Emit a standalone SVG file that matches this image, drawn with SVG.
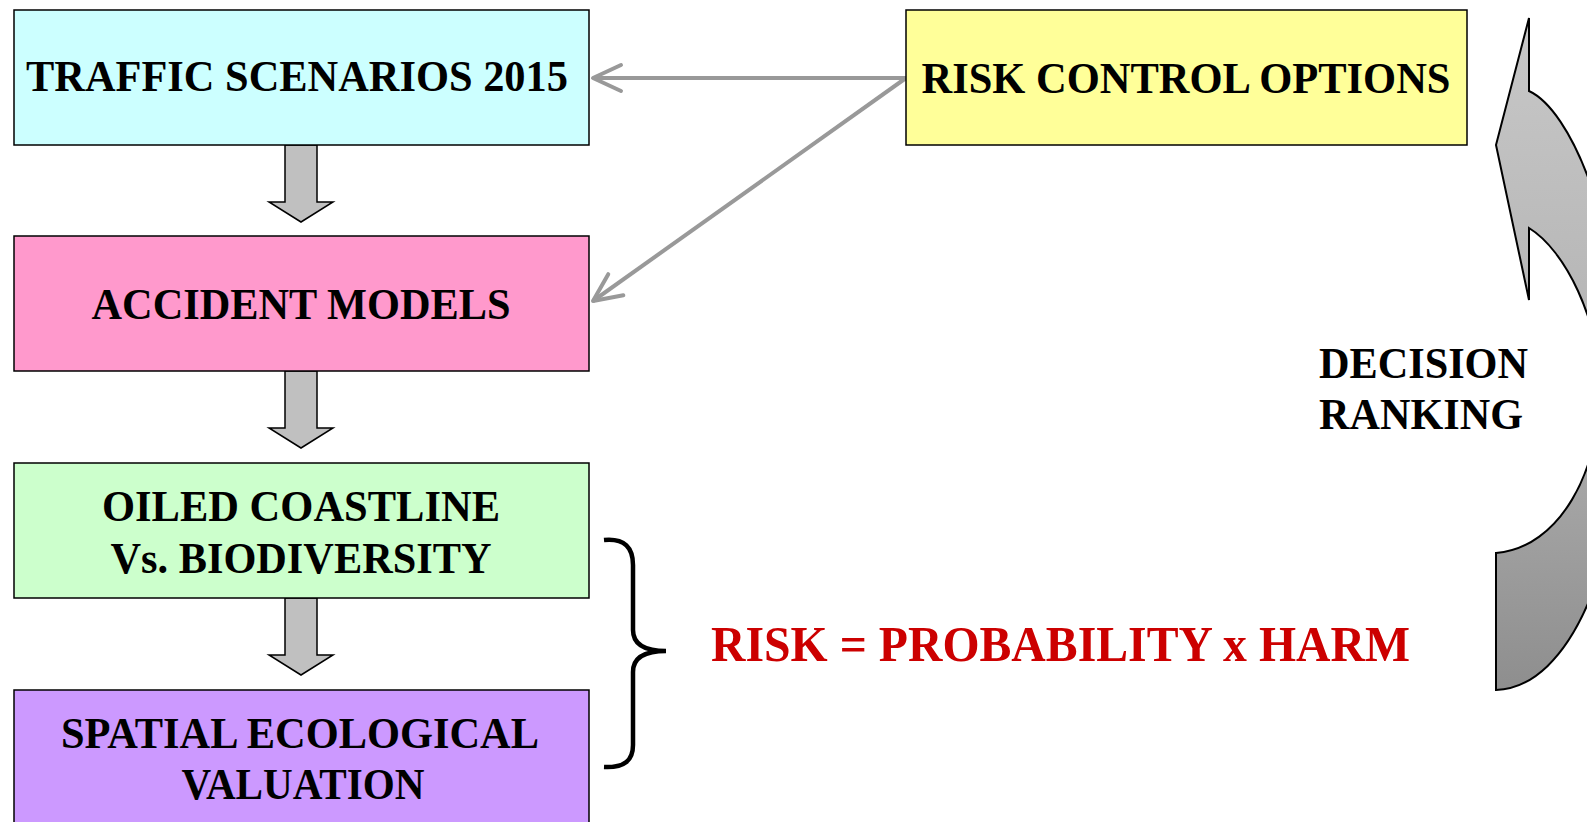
<svg xmlns="http://www.w3.org/2000/svg" width="1587" height="822" viewBox="0 0 1587 822">
<defs>
<style>
.box{stroke:#000;stroke-width:1.5}
.t{font-family:"Liberation Serif","Times New Roman",serif;font-weight:bold;font-size:45px;fill:#000;text-anchor:middle}
.blk{fill:#c0c0c0;stroke:#000;stroke-width:1.5;stroke-linejoin:miter}
.con{stroke:#999;stroke-width:4;fill:none}
</style>
<marker id="open" markerUnits="userSpaceOnUse" markerWidth="40" markerHeight="40" refX="0" refY="0" orient="auto" overflow="visible">
<path d="M-28,-13 L0,0 L-28,13" fill="none" stroke="#999" stroke-width="4" stroke-linecap="round" stroke-linejoin="round"/>
</marker>
<linearGradient id="cg" x1="0" y1="0" x2="0" y2="1">
<stop offset="0" stop-color="#c8c8c8"/>
<stop offset="0.5" stop-color="#b4b4b4"/>
<stop offset="1" stop-color="#8e8e8e"/>
</linearGradient>
</defs>
<rect width="1587" height="822" fill="#fff"/>

<g id="connectors">
<line class="con" x1="906" y1="78" x2="593" y2="78" marker-end="url(#open)"/>
<line class="con" x1="906" y1="78" x2="593" y2="301" marker-end="url(#open)"/>
<path class="blk" d="M285,145 L317,145 L317,202 L333,202 L301,222 L269,202 L285,202 Z"/>
<path class="blk" d="M285,371 L317,371 L317,428 L333,428 L301,448 L269,428 L285,428 Z"/>
<path class="blk" d="M285,598 L317,598 L317,655 L333,655 L301,675 L269,655 L285,655 Z"/>
</g>

<g id="traffic">
<rect class="box" x="14" y="10" width="575" height="135" fill="#ccffff"/>
<text class="t" x="297" y="91" textLength="542" lengthAdjust="spacingAndGlyphs">TRAFFIC SCENARIOS 2015</text>
</g>
<g id="risk-control">
<rect class="box" x="906" y="10" width="561" height="135" fill="#ffff99"/>
<text class="t" x="1186" y="93" textLength="529" lengthAdjust="spacingAndGlyphs">RISK CONTROL OPTIONS</text>
</g>
<g id="accident">
<rect class="box" x="14" y="236" width="575" height="135" fill="#ff99cc"/>
<text class="t" x="301" y="319" textLength="419" lengthAdjust="spacingAndGlyphs">ACCIDENT MODELS</text>
</g>
<g id="oiled">
<rect class="box" x="14" y="463" width="575" height="135" fill="#ccffcc"/>
<text class="t" x="301" y="521" textLength="398" lengthAdjust="spacingAndGlyphs">OILED COASTLINE</text>
<text class="t" x="301" y="573" textLength="381" lengthAdjust="spacingAndGlyphs">Vs. BIODIVERSITY</text>
</g>
<g id="spatial">
<rect class="box" x="14" y="690" width="575" height="140" fill="#cc99ff"/>
<text class="t" x="300" y="748" textLength="478" lengthAdjust="spacingAndGlyphs">SPATIAL ECOLOGICAL</text>
<text class="t" x="303" y="799" textLength="243" lengthAdjust="spacingAndGlyphs">VALUATION</text>
</g>

<g id="brace">
<path d="M604,540 C625,538 633,548 633,565 L633,630 C633,645 645,651 666,651 C645,651 633,657 633,672 L633,745 C633,760 625,768 604,767" fill="none" stroke="#000" stroke-width="4.5"/>
</g>
<g id="risk-formula">
<text x="711" y="661" font-family="Liberation Serif, Times New Roman, serif" font-weight="bold" font-size="50" fill="#cc0000" textLength="699" lengthAdjust="spacingAndGlyphs">RISK = PROBABILITY x HARM</text>
</g>

<g id="decision-arrow">
<path d="M1529,18 L1529,91 C1570,110 1620,220 1625,390 C1625,560 1570,688 1496,690 L1496,553 C1560,548 1600,470 1600,390 C1600,320 1565,250 1529,228 L1529,300 L1496,145 Z" fill="url(#cg)" stroke="#000" stroke-width="2" stroke-linejoin="miter"/>
<text class="t" x="1319" y="378" style="text-anchor:start" textLength="209" lengthAdjust="spacingAndGlyphs">DECISION</text>
<text class="t" x="1319" y="429" style="text-anchor:start" textLength="204" lengthAdjust="spacingAndGlyphs">RANKING</text>
</g>
</svg>
